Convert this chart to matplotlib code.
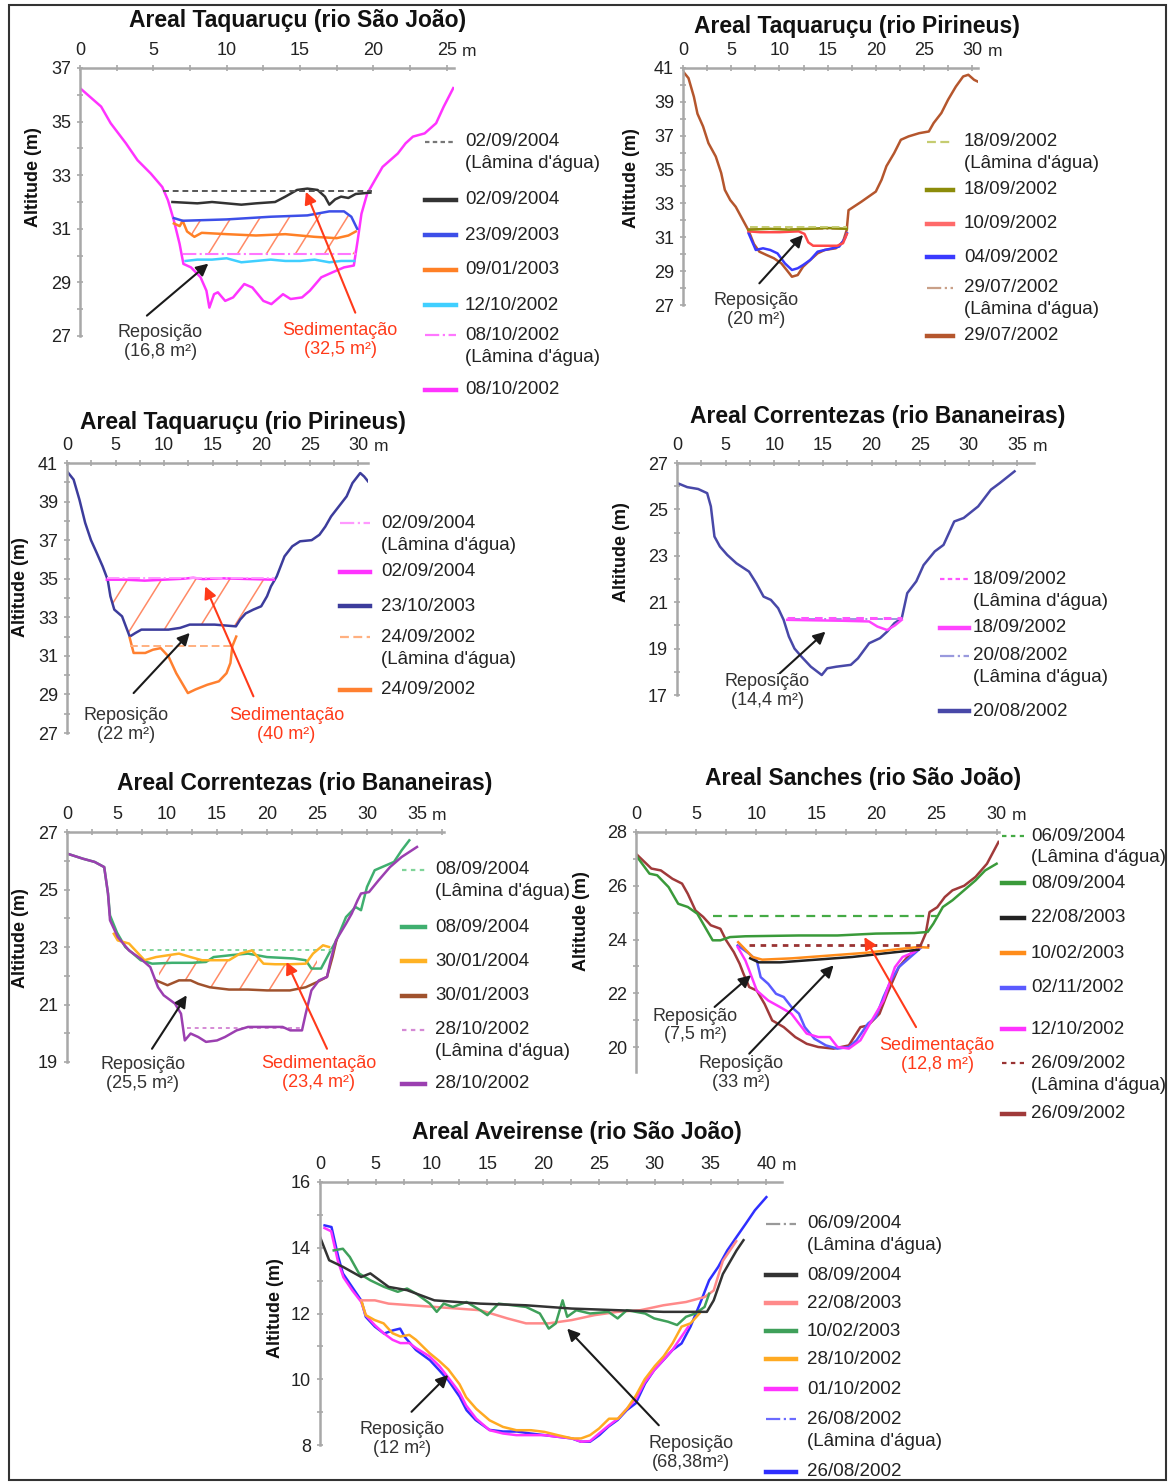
import numpy as np
import matplotlib
matplotlib.use('Agg')
import matplotlib.pyplot as plt
from matplotlib.lines import Line2D
from matplotlib.patches import Rectangle
from matplotlib.ticker import MultipleLocator
from matplotlib.transforms import IdentityTransform

W, H = 1170, 1483

plt.rc('font', family=['Liberation Sans', 'DejaVu Sans'], size=13)

AXIS_GREY = '#A8A8A8'
TEXT = '#222222'
RED_TEXT = '#FF3A1A'
HATCH = '#FF8A66'
LW = 1.8
LAM = "(Lâmina d'água)"

# ---------------- Areal Taquaruçu (rio São João) ----------------
p1_x_0810 = [0, 1.44, 2.09, 3.13, 3.92, 4.83, 5.61, 6.0, 6.4, 6.79, 7.05, 7.57, 8.22, 8.62, 8.82,
             9.14, 9.4, 9.9, 10.44, 11.2, 11.75, 12.5, 13.05, 13.84, 14.36, 15.14, 15.67, 16.45,
             17.23, 18.0, 18.67, 18.93, 19.19, 19.58, 20.1, 20.63, 21.15, 21.67, 22.2, 22.7, 23.5,
             24.28, 24.8, 25.45]
p1_y_0810 = [36.25, 35.56, 34.94, 34.19, 33.56, 33.06, 32.56, 32.06, 31.31, 30.44, 29.69, 29.56,
             29.19, 28.69, 28.06, 28.56, 28.63, 28.31, 28.44, 28.94, 28.81, 28.31, 28.19, 28.56,
             28.38, 28.44, 28.69, 29.19, 29.38, 29.56, 29.63, 30.56, 31.56, 32.31, 32.81, 33.31,
             33.56, 33.81, 34.19, 34.44, 34.56, 34.94, 35.56, 36.25]
p1_x_0810_lam = [7.05, 18.93]
p1_y_0810_lam = [30.05, 30.05]
p1_x_1210 = [7.2, 8, 9, 10, 11, 12, 13, 14, 15, 16, 17, 17.8, 18.7]
p1_y_1210 = [29.8, 29.85, 29.85, 29.9, 29.75, 29.8, 29.85, 29.8, 29.8, 29.85, 29.75, 29.8, 29.8]
p1_x_0901 = [6.4, 6.8, 7.0, 7.3, 7.8, 8.3, 10, 12, 14, 16, 17.5, 18.3, 18.8]
p1_y_0901 = [31.2, 31.1, 31.3, 30.9, 30.7, 30.85, 30.8, 30.75, 30.8, 30.7, 30.65, 30.75, 30.9]
p1_x_2309 = [6.4, 7, 10, 13, 15.5, 17, 18, 18.5, 18.9]
p1_y_2309 = [31.4, 31.3, 31.35, 31.45, 31.5, 31.65, 31.65, 31.45, 31.0]
p1_x_0209 = [6.3, 8, 9, 10, 11, 12, 13.3, 14, 14.8, 15.5, 16.2, 16.7, 17.0, 17.4, 17.8, 18.3, 18.8, 19.8]
p1_y_0209 = [32.0, 31.95, 32.0, 31.95, 31.9, 31.95, 32.0, 32.2, 32.45, 32.5, 32.45, 32.2, 31.9,
             32.1, 32.2, 32.15, 32.3, 32.35]
p1_x_0209_lam = [5.65, 19.9]
p1_y_0209_lam = [32.4, 32.4]

# ---------------- Areal Taquaruçu (rio Pirineus), 2002 ----------------
p2_x_2907 = [0, 0.57, 1.13, 1.5, 2.08, 2.64, 3.4, 3.96, 4.34, 4.9, 5.47, 6.04, 6.8, 7.36, 7.92, 8.68,
             9.43, 10.2, 10.75, 11.3, 11.9, 12.45, 13.2, 13.96, 14.7, 15.85, 16.6, 16.98, 17.17,
             17.7, 18.5, 19.25, 20.0, 20.6, 21.1, 21.9, 22.6, 23.4, 24.5, 25.5, 26.0, 26.8, 27.5,
             28.3, 29.06, 29.6, 30.2, 30.57]
p2_y_2907 = [40.8, 40.4, 39.3, 38.3, 37.55, 36.56, 35.77, 34.8, 33.8, 33.2, 32.8, 32.2, 31.4, 30.6,
             30.15, 29.95, 29.76, 29.46, 29.07, 28.67, 28.77, 29.26, 29.66, 30.05, 30.25, 30.35,
             30.74, 31.43, 32.6, 32.8, 33.1, 33.4, 33.7, 34.4, 35.2, 35.97, 36.76, 36.96, 37.15,
             37.25, 37.75, 38.34, 39.13, 39.9, 40.5, 40.6, 40.3, 40.2]
p2_x_2907_lam = [6.8, 17.0]
p2_y_2907_lam = [31.5, 31.5]
p2_x_1809 = [6.8, 9, 11, 13, 15, 17.0]
p2_y_1809 = [31.45, 31.5, 31.45, 31.5, 31.55, 31.5]
p2_x_1809_lam = [6.9, 17.0]
p2_y_1809_lam = [31.62, 31.62]
p2_x_1009 = [6.8, 8, 10, 12, 12.6, 13.0, 13.5, 15, 16, 16.6, 17.0]
p2_y_1009 = [31.35, 31.3, 31.3, 31.35, 31.2, 30.7, 30.5, 30.5, 30.5, 30.65, 31.2]
p2_x_0409 = [6.8, 7.55, 8.3, 9.05, 9.8, 10.57, 11.3, 11.9, 12.45, 13.2, 13.96, 14.7, 15.5, 16.2, 16.8, 17.0]
p2_y_0409 = [31.24, 30.25, 30.35, 30.25, 30.05, 29.46, 29.07, 29.17, 29.36, 29.66, 30.15, 30.25,
             30.35, 30.45, 30.94, 31.24]

# ---------------- Areal Taquaruçu (rio Pirineus), 2002-2004 ----------------
p3_x_2310 = [0, 0.68, 1.28, 1.87, 2.47, 3.07, 3.67, 4.19, 4.47, 4.87, 5.67, 6.06, 6.46, 7.06, 7.66,
             8.86, 10.45, 11.65, 12.64, 15.2, 17.4, 17.83, 18.4, 19.2, 20.0, 20.6, 21.0, 21.6, 22.4,
             23.2, 24.0, 25.2, 26.0, 26.6, 27.2, 28.0, 28.8, 29.4, 30.2, 30.6, 31.0]
p3_y_2310 = [40.57, 40.14, 39.1, 37.9, 37.0, 36.33, 35.64, 34.95, 34.09, 33.4, 33.05, 32.53, 32.0,
             32.19, 32.36, 32.36, 32.36, 32.45, 32.62, 32.62, 32.53, 32.88, 33.2, 33.4, 33.57, 34.09,
             34.6, 35.12, 36.16, 36.68, 36.94, 37.0, 37.28, 37.7, 38.23, 38.75, 39.27, 39.96, 40.48,
             40.3, 40.05]
p3_x_0209 = [4.1, 6, 8, 10, 12, 13, 14, 16, 17.5, 19, 21.3]
p3_y_0209 = [34.95, 34.95, 34.9, 34.95, 35.0, 35.05, 34.98, 35.02, 35.0, 34.98, 34.95]
p3_x_0209_lam = [4.1, 21.3]
p3_y_0209_lam = [35.05, 35.05]
p3_x_2409 = [6.46, 6.86, 8.06, 8.86, 9.65, 10.45, 11.25, 12.45, 13.24, 14.44, 15.64, 16.43, 16.83, 17.03, 17.43]
p3_y_2409 = [31.93, 31.15, 31.15, 31.32, 31.4, 30.97, 30.1, 29.07, 29.26, 29.5, 29.68, 30.1, 30.63, 31.5, 32.0]
p3_x_2409_lam = [6.5, 17.2]
p3_y_2409_lam = [31.5, 31.5]

# ---------------- Areal Correntezas (rio Bananeiras), 2002 ----------------
p4_x_2008 = [0, 1.05, 2.17, 3.1, 3.48, 3.85, 4.41, 5.16, 6.1, 7.4, 8.15, 8.9, 9.65, 10.4, 10.96, 11.5,
             12.08, 12.8, 13.76, 14.88, 15.44, 16.38, 17.87, 18.6, 19.75, 20.87, 21.6, 22.36, 23.1,
             23.67, 24.6, 25.35, 26.5, 27.4, 28.5, 29.47, 30.96, 32.27, 33.2, 34.7]
p4_y_2008 = [26.14, 25.96, 25.88, 25.7, 25.13, 23.83, 23.4, 23.04, 22.68, 22.32, 21.82, 21.24, 21.1,
             20.74, 20.24, 19.52, 19.0, 18.65, 18.22, 17.86, 18.15, 18.22, 18.3, 18.58, 19.23, 19.45,
             19.73, 20.1, 20.3, 21.39, 21.9, 22.6, 23.19, 23.47, 24.48, 24.63, 25.13, 25.85, 26.14, 26.64]
p4_x_2008_lam = [11.4, 23.0]
p4_y_2008_lam = [20.26, 20.26]
p4_x_1809 = [11.33, 14, 17, 19.75, 20.6, 21.6, 22.4, 23.1]
p4_y_1809 = [20.24, 20.22, 20.2, 20.17, 19.95, 19.8, 20.0, 20.24]
p4_x_1809_lam = [11.3, 23.1]
p4_y_1809_lam = [20.32, 20.32]

# ---------------- Areal Correntezas (rio Bananeiras), 2002-2004 ----------------
p5_x_2810 = [0, 1.6, 2.76, 3.72, 4.1, 4.3, 5.07, 6.2, 7.37, 8.33, 9.1, 9.67, 10.8, 11.4, 11.78, 12.36,
             13.12, 13.9, 15.0, 15.8, 16.96, 18.1, 20.0, 21.56, 22.33, 23.5, 23.87, 24.44, 25.2, 26.0,
             26.36, 26.9, 27.9, 28.47, 29.05, 29.4, 30.2, 31.16, 32.3, 33.46, 35.0]
p5_y_2810 = [26.25, 26.07, 25.96, 25.78, 24.86, 23.93, 23.35, 22.88, 22.59, 22.3, 21.6, 21.32, 21.03,
             20.68, 19.75, 19.99, 19.87, 19.7, 19.75, 19.87, 20.1, 20.22, 20.22, 20.22, 20.1, 20.1,
             20.68, 21.49, 21.84, 21.96, 22.54, 23.23, 23.81, 24.16, 24.62, 24.86, 24.91, 25.32,
             25.78, 26.13, 26.48]
p5_x_2810_lam = [12.0, 23.5]
p5_y_2810_lam = [20.18, 20.18]
p5_x_0809 = [0, 1.6, 2.76, 3.72, 4.1, 4.3, 5.0, 5.83, 7.37, 8.52, 10.5, 12.5, 13.9, 14.66, 16.5, 18.1,
             20.0, 22.7, 23.87, 24.44, 25.4, 26.2, 26.94, 27.9, 28.86, 29.4, 30.0, 30.77, 31.5, 32.7,
             33.46, 34.23]
p5_y_0809 = [26.25, 26.07, 25.96, 25.78, 24.86, 24.1, 23.5, 23.0, 22.54, 22.42, 22.45, 22.45, 22.48,
             22.65, 22.72, 22.77, 22.65, 22.6, 22.54, 22.25, 22.25, 22.77, 23.23, 24.04, 24.39, 24.28,
             25.09, 25.67, 25.78, 25.96, 26.36, 26.71]
p5_x_0809_lam = [7.5, 26.5]
p5_y_0809_lam = [22.88, 22.88]
p5_x_3001_04 = [4.68, 5.07, 6.2, 6.98, 7.75, 8.9, 10.05, 11.2, 12.36, 13.5, 14.66, 16.2, 17.3, 18.5,
                19.65, 20.8, 22.3, 23.87, 24.6, 25.6, 26.2]
p5_y_3001_04 = [23.46, 23.23, 23.12, 22.83, 22.54, 22.65, 22.71, 22.77, 22.65, 22.54, 22.54, 22.54,
                22.77, 22.88, 22.42, 22.4, 22.4, 22.42, 22.77, 23.06, 23.0]
p5_x_3001_03 = [8.9, 10.05, 11.2, 12.36, 13.12, 14.27, 16.2, 18.1, 20.0, 22.3, 23.87, 25.0, 26.0, 26.55, 26.94]
p5_y_3001_03 = [21.84, 21.67, 21.84, 21.84, 21.72, 21.6, 21.52, 21.52, 21.49, 21.49, 21.6, 21.78,
                21.96, 22.65, 23.23]

# ---------------- Areal Sanches (rio São João) ----------------
p6_x_2609 = [0, 1.28, 2.07, 3.03, 3.83, 4.31, 4.95, 5.59, 6.22, 7.02, 7.5, 8.14, 8.62, 8.94, 9.42,
             10.05, 10.7, 11.33, 12.29, 13.25, 14.2, 15.16, 16.44, 17.71, 18.67, 19.3, 20.26, 20.9,
             21.86, 22.82, 23.62, 24.1, 24.42, 25.06, 25.69, 26.33, 27.3, 28.25, 29.2, 30.16]
p6_y_2609 = [27.19, 26.64, 26.57, 26.26, 26.08, 25.7, 25.08, 24.84, 24.53, 24.4, 23.97, 23.53, 23.1,
             22.73, 22.23, 22.1, 21.6, 20.99, 20.74, 20.37, 20.12, 20.0, 19.94, 20.06, 20.74, 20.8,
             21.24, 21.98, 22.97, 23.47, 23.72, 24.22, 25.02, 25.2, 25.58, 25.83, 26.0, 26.33, 26.82, 27.63]
p6_x_2609_lam = [9.4, 24.4]
p6_y_2609_lam = [23.78, 23.78]
p6_x_0809 = [0, 1.12, 1.76, 2.71, 3.51, 4.31, 5.1, 5.9, 6.38, 7.02, 7.82, 9.1, 13.56, 16.76, 19.95,
             23.14, 24.26, 24.74, 25.53, 26.33, 27.29, 28.25, 29.05, 30.0]
p6_y_0809 = [27.13, 26.45, 26.39, 25.95, 25.33, 25.21, 24.96, 24.34, 23.97, 23.97, 24.09, 24.12, 24.15,
             24.15, 24.22, 24.24, 24.28, 24.59, 25.21, 25.46, 25.83, 26.2, 26.57, 26.82]
p6_x_0609_lam = [6.38, 25.06]
p6_y_0609_lam = [24.86, 24.86]
p6_x_2208 = [9.5, 10.2, 12, 15, 18, 21, 23.5]
p6_y_2208 = [23.3, 23.15, 23.15, 23.25, 23.35, 23.5, 23.62]
p6_x_1002 = [8.5, 9.7, 10.5, 13, 16, 19, 22, 23.5, 24.3]
p6_y_1002 = [23.9, 23.35, 23.25, 23.3, 23.4, 23.5, 23.65, 23.72, 23.7]
p6_x_0211 = [8.46, 9.42, 10.05, 10.37, 11.0, 11.65, 12.29, 12.93, 13.56, 14.04, 14.84, 15.8, 16.76,
             17.71, 18.35, 19.3, 19.95, 20.59, 21.22, 21.86, 22.5, 23.14, 23.78]
p6_y_0211 = [23.78, 23.47, 23.22, 22.6, 22.35, 21.98, 21.86, 21.49, 21.24, 20.74, 20.31, 20.06, 19.94,
             20.0, 20.25, 20.87, 21.11, 21.86, 22.48, 22.97, 23.22, 23.47, 23.72]
p6_x_1210 = [8.46, 9.1, 9.42, 10.05, 11.0, 11.97, 12.93, 13.56, 14.2, 15.16, 16.12, 16.76, 17.71,
             18.67, 19.63, 20.59, 21.54, 22.18, 23.14, 23.62]
p6_y_1210 = [23.72, 23.22, 22.85, 22.1, 21.73, 21.49, 21.24, 20.87, 20.5, 20.37, 20.37, 20.0, 19.94,
             20.25, 21.0, 21.73, 22.97, 23.35, 23.53, 23.72]

# ---------------- Areal Aveirense (rio São João) ----------------
p7_x_2608 = [0.41, 1.03, 1.64, 2.05, 2.87, 3.69, 4.1, 4.92, 5.74, 6.56, 7.18, 7.59, 8.6, 9.85, 10.67,
             11.49, 12.51, 13.13, 13.95, 15.18, 16.41, 17.64, 18.87, 20.1, 21.33, 22.56, 23.38, 24.2,
             25.03, 25.85, 26.67, 27.49, 28.3, 29.13, 29.95, 30.77, 31.59, 32.4, 33.2, 34.05, 34.87,
             35.69, 36.5, 37.33, 38.15, 38.97, 40.0]
p7_y_2608 = [14.68, 14.63, 13.72, 13.22, 12.81, 12.4, 11.9, 11.6, 11.39, 11.49, 11.54, 11.29, 10.89,
             10.58, 10.28, 9.97, 9.47, 9.06, 8.76, 8.46, 8.41, 8.41, 8.35, 8.3, 8.25, 8.2, 8.1, 8.1,
             8.3, 8.56, 8.76, 9.06, 9.27, 9.87, 10.28, 10.58, 10.89, 11.09, 11.6, 12.3, 13.01, 13.42,
             13.92, 14.33, 14.73, 15.14, 15.54]
p7_x_2608_lam = [30.8, 34.6]
p7_y_2608_lam = [12.05, 12.05]
p7_x_0110 = [0.4, 1.0, 1.6, 2.1, 2.9, 3.7, 4.1, 4.9, 5.7, 6.5, 7.2, 8.0, 8.6, 9.8, 10.7, 11.5, 12.5,
             13.1, 14.0, 15.2, 16.4, 17.6, 18.9, 20.1, 21.3, 22.6, 23.4, 24.2, 25.0, 25.9, 26.7, 27.5,
             28.3, 29.1, 30.0, 30.8, 31.6, 32.4, 33.0]
p7_y_0110 = [14.6, 14.5, 13.6, 13.1, 12.7, 12.35, 11.95, 11.65, 11.4, 11.2, 11.1, 11.1, 10.95, 10.7,
             10.4, 10.05, 9.6, 9.2, 8.8, 8.45, 8.35, 8.3, 8.3, 8.3, 8.25, 8.2, 8.1, 8.12, 8.35, 8.6,
             8.8, 9.1, 9.4, 9.9, 10.3, 10.6, 10.9, 11.3, 11.6]
p7_x_2810 = [3.7, 4.1, 4.9, 5.7, 6.5, 7.2, 8.0, 8.6, 9.8, 10.7, 11.5, 12.5, 13.1, 14.0, 15.2, 16.4,
             17.6, 18.9, 20.1, 21.3, 22.6, 23.4, 24.2, 25.0, 25.9, 26.7, 27.5, 28.3, 29.1, 30.0, 30.8,
             31.6, 32.4, 33.2, 34.0]
p7_y_2810 = [12.4, 11.95, 11.8, 11.7, 11.4, 11.3, 11.35, 11.2, 10.8, 10.55, 10.3, 9.85, 9.45, 9.1,
             8.75, 8.55, 8.45, 8.45, 8.4, 8.3, 8.2, 8.2, 8.3, 8.5, 8.8, 8.8, 9.1, 9.5, 10.0, 10.4,
             10.7, 11.1, 11.6, 11.7, 12.0]
p7_x_0809 = [0, 0.82, 2.05, 3.69, 4.51, 6.15, 7.8, 10.25, 14.36, 18.46, 22.56, 26.67, 30.77, 34.67,
             35.28, 36.1, 37.33, 37.95]
p7_y_0809 = [14.33, 13.62, 13.42, 13.11, 13.22, 12.81, 12.71, 12.4, 12.3, 12.25, 12.15, 12.1, 12.05,
             12.05, 12.4, 13.2, 13.92, 14.23]
p7_x_0609_lam = [30.8, 34.6]
p7_y_0609_lam = [12.05, 12.05]
p7_x_2208 = [3.69, 4.92, 6.15, 10.25, 14.36, 16.8, 18.46, 20.5, 22.56, 24.6, 26.67, 28.7, 30.77,
             32.8, 34.46, 35.28, 36.1, 36.9, 37.3]
p7_y_2208 = [12.4, 12.4, 12.3, 12.2, 12.1, 11.85, 11.7, 11.7, 11.8, 11.95, 12.05, 12.1, 12.25, 12.35,
             12.5, 12.7, 13.6, 14.0, 14.2]
p7_x_1002 = [1.23, 2.05, 2.67, 3.49, 4.51, 5.74, 6.97, 7.8, 8.6, 9.85, 10.46, 11.08, 11.9, 13.13,
             14.36, 15.0, 16.0, 17.23, 18.46, 19.7, 20.5, 21.13, 21.74, 22.15, 22.97, 24.2, 25.85,
             26.67, 27.49, 29.13, 29.95, 31.18, 32.0, 32.8, 33.64, 34.46, 34.87]
p7_y_1002 = [13.92, 13.97, 13.72, 13.22, 13.01, 12.81, 12.66, 12.76, 12.61, 12.3, 12.05, 12.3, 12.2,
             12.35, 12.1, 11.95, 12.3, 12.25, 12.2, 12.0, 11.54, 11.7, 12.4, 11.9, 12.1, 12.0, 12.05,
             11.85, 12.1, 12.0, 11.85, 11.75, 11.65, 11.9, 12.0, 12.2, 12.6]


def add_axes(fig, left, top, right, bottom):
    return fig.add_axes([left / W, 1 - bottom / H, (right - left) / W, (bottom - top) / H])


def style_axes(ax, xlim, ylim, xmax_tick, yticks):
    ax.set_xlim(*xlim)
    ax.set_ylim(*ylim)
    ax.patch.set_alpha(0)
    for s in ('right', 'bottom'):
        ax.spines[s].set_visible(False)
    for s in ('top', 'left'):
        ax.spines[s].set_color(AXIS_GREY)
        ax.spines[s].set_linewidth(1.8)
    ax.xaxis.tick_top()
    xt = np.arange(0, xmax_tick + 1, 5)
    ax.set_xticks(xt)
    ax.set_xticklabels([str(v) for v in xt])
    ax.xaxis.set_minor_locator(MultipleLocator(2.5))
    ax.set_yticks(np.arange(yticks[0], yticks[1] + 1, 2))
    ax.yaxis.set_minor_locator(MultipleLocator(1))
    ax.tick_params(which='both', direction='inout', length=5, width=1.2, color=AXIS_GREY,
                   labelcolor=TEXT, labelsize=13, pad=4)
    ax.annotate('m', xy=(xt[-1], 1), xycoords=('data', 'axes fraction'), xytext=(11, 6.5),
                textcoords='offset points', ha='left', va='bottom', fontsize=12.5, color=TEXT)


def put_title(fig, x, y, text):
    fig.text(x / W, 1 - y / H, text, ha='center', va='center', fontsize=16.5, fontweight='bold', color='#111111')


def put_ylabel(fig, x, y):
    fig.text(x / W, 1 - y / H, 'Altitude (m)', rotation=90, ha='center', va='center',
             fontsize=13, fontweight='bold', color='#111111')


def draw_key(fig, x0, x1, xt, entries):
    for y, label, color, ls in entries:
        lines = label.split('\n')
        lw = 1.6 if len(lines) > 1 else 3.2
        fig.add_artist(Line2D([x0 / W, x1 / W], [1 - y / H] * 2, color=color, ls=ls, lw=lw,
                              transform=fig.transFigure))
        for i, t in enumerate(lines):
            fig.text(xt / W, 1 - (y + i * 22) / H, t, ha='left', va='center', fontsize=13.5, color=TEXT)


def hatch(ax, xa, ya, xb, yb, x0, x1, gap=30, slope=1.6):
    xs = np.linspace(x0, x1, 150)
    lo = np.interp(xs, xa, ya)
    hi = np.interp(xs, xb, yb)
    region = ax.fill_between(xs, lo, hi, facecolor='none', edgecolor='none', lw=0)
    pts = ax.transData.transform(np.column_stack([np.r_[xs, xs], np.r_[lo, hi]]))
    px0, py0 = pts.min(axis=0)
    px1, py1 = pts.max(axis=0)
    run = (py1 - py0) / slope
    for c in np.arange(px0 - run + gap / 2, px1, gap):
        seg = Line2D([c, c + run], [py0, py1], transform=IdentityTransform(), color=HATCH, lw=1.1)
        seg.set_clip_path(region.get_paths()[0], ax.transData)
        ax.add_line(seg)


def arrow(ax, tail, head, color='#1a1a1a'):
    ax.annotate('', xy=head, xytext=tail, annotation_clip=False,
                arrowprops=dict(arrowstyle='-|>,head_length=0.55,head_width=0.28', color=color,
                                lw=1.5, shrinkA=0, shrinkB=0))


def note(ax, x, y, text, color='#333333'):
    ax.text(x, y, text, ha='center', va='center', fontsize=13, color=color, linespacing=1.15, clip_on=False)


def panel_1(fig):
    ax = add_axes(fig, 80, 68, 454, 336)
    style_axes(ax, (0, 25.5), (27, 37), 25, (27, 37))
    hatch(ax, p1_x_0810_lam, p1_y_0810_lam, p1_x_2309, p1_y_2309, 7.6, 18.7, gap=29)
    ax.plot(p1_x_0810, p1_y_0810, color='#FF33FF', lw=LW)
    ax.plot(p1_x_1210, p1_y_1210, color='#40CFFF', lw=LW)
    ax.plot(p1_x_0810_lam, p1_y_0810_lam, color='#FF77FF', lw=1.5, ls='-.')
    ax.plot(p1_x_0901, p1_y_0901, color='#FF8026', lw=LW)
    ax.plot(p1_x_2309, p1_y_2309, color='#3D4FE8', lw=LW)
    ax.plot(p1_x_0209, p1_y_0209, color='#333333', lw=LW)
    ax.plot(p1_x_0209_lam, p1_y_0209_lam, color='#555555', lw=1.4, ls=(0, (3, 2)))
    arrow(ax, (4.56, 27.76), (8.75, 29.7))
    note(ax, 5.48, 26.79, 'Reposição\n(16,8 m²)')
    arrow(ax, (18.77, 27.87), (15.4, 32.38), RED_TEXT)
    note(ax, 17.74, 26.86, 'Sedimentação\n(32,5 m²)', RED_TEXT)
    put_title(fig, 298, 20, 'Areal Taquaruçu (rio São João)')
    put_ylabel(fig, 33, 177)
    draw_key(fig, 425, 456, 465, [
        (142, '02/09/2004\n' + LAM, '#777777', (0, (2, 1.5))),
        (200, '02/09/2004', '#333333', '-'),
        (235, '23/09/2003', '#3D4FE8', '-'),
        (270, '09/01/2003', '#FF8026', '-'),
        (305, '12/10/2002', '#40CFFF', '-'),
        (335, '08/10/2002\n' + LAM, '#FF77FF', '-.'),
        (390, '08/10/2002', '#FF33FF', '-'),
    ])


def panel_2(fig):
    ax = add_axes(fig, 683, 68, 978, 305)
    style_axes(ax, (0, 30.6), (27, 41), 30, (27, 41))
    ax.plot(p2_x_2907, p2_y_2907, color='#B5562D', lw=LW)
    ax.plot(p2_x_2907_lam, p2_y_2907_lam, color='#C9A088', lw=1.4, ls='-.')
    ax.plot(p2_x_0409, p2_y_0409, color='#3A3AFF', lw=LW)
    ax.plot(p2_x_1009, p2_y_1009, color='#FF4A4A', lw=LW)
    ax.plot(p2_x_1809, p2_y_1809, color='#8C8C0A', lw=LW)
    ax.plot(p2_x_1809_lam, p2_y_1809_lam, color='#C5CC70', lw=1.4, ls=(0, (4, 2)))
    arrow(ax, (7.92, 28.28), (12.45, 31.14))
    note(ax, 7.55, 26.7, 'Reposição\n(20 m²)')
    put_title(fig, 857, 27, 'Areal Taquaruçu (rio Pirineus)')
    put_ylabel(fig, 631, 178)
    draw_key(fig, 927, 953, 964, [
        (142, '18/09/2002\n' + LAM, '#C5CC70', (0, (4, 2))),
        (190, '18/09/2002', '#8C8C0A', '-'),
        (224, '10/09/2002', '#FF6A6A', '-'),
        (257, '04/09/2002', '#3A3AFF', '-'),
        (288, '29/07/2002\n' + LAM, '#C9A088', '-.'),
        (336, '29/07/2002', '#B5562D', '-'),
    ])


def panel_3(fig):
    ax = add_axes(fig, 67, 463, 368, 733)
    style_axes(ax, (0, 31.0), (27, 41), 30, (27, 41))
    hatch(ax, p3_x_2310, p3_y_2310, p3_x_0209, p3_y_0209, 4.6, 21.2, gap=34)
    ax.plot(p3_x_2310, p3_y_2310, color='#3C3C9C', lw=LW)
    ax.plot(p3_x_2409, p3_y_2409, color='#FF8030', lw=LW)
    ax.plot(p3_x_2409_lam, p3_y_2409_lam, color='#FFB080', lw=1.4, ls=(0, (4, 2)))
    ax.plot(p3_x_0209, p3_y_0209, color='#FF33FF', lw=LW)
    ax.plot(p3_x_0209_lam, p3_y_0209_lam, color='#FF99FF', lw=1.4, ls='-.')
    arrow(ax, (6.86, 29.07), (12.64, 32.19))
    note(ax, 6.06, 27.43, 'Reposição\n(22 m²)')
    arrow(ax, (19.2, 28.9), (14.24, 34.6), RED_TEXT)
    note(ax, 22.6, 27.43, 'Sedimentação\n(40 m²)', RED_TEXT)
    put_title(fig, 243, 423, 'Areal Taquaruçu (rio Pirineus)')
    put_ylabel(fig, 21, 587)
    draw_key(fig, 340, 370, 381, [
        (523, '02/09/2004\n' + LAM, '#FF99FF', '-.'),
        (572, '02/09/2004', '#FF33FF', '-'),
        (606, '23/10/2003', '#3C3C9C', '-'),
        (637, '24/09/2002\n' + LAM, '#FFB080', (0, (4, 2))),
        (690, '24/09/2002', '#FF8030', '-'),
    ])


def panel_4(fig):
    ax = add_axes(fig, 677, 463, 1034, 695)
    style_axes(ax, (0, 36.7), (17, 27), 35, (17, 27))
    ax.plot(p4_x_2008, p4_y_2008, color='#4848A8', lw=LW)
    ax.plot(p4_x_2008_lam, p4_y_2008_lam, color='#9999DD', lw=1.4, ls='-.')
    ax.plot(p4_x_1809, p4_y_1809, color='#FF44FF', lw=LW)
    ax.plot(p4_x_1809_lam, p4_y_1809_lam, color='#FF55FF', lw=2.2, ls=(0, (2.5, 2)))
    arrow(ax, (10.58, 17.94), (15.26, 19.73))
    note(ax, 9.27, 17.19, 'Reposição\n(14,4 m²)')
    put_title(fig, 878, 417, 'Areal Correntezas (rio Bananeiras)')
    put_ylabel(fig, 622, 552)
    draw_key(fig, 940, 969, 973, [
        (579, '18/09/2002\n' + LAM, '#FF55FF', (0, (2, 1.5))),
        (628, '18/09/2002', '#FF44FF', '-'),
        (656, '20/08/2002\n' + LAM, '#9999DD', '-.'),
        (711, '20/08/2002', '#4848A8', '-'),
    ])


def panel_5(fig):
    ax = add_axes(fig, 67, 832, 444, 1062)
    style_axes(ax, (0, 37.7), (19, 27), 35, (19, 27))
    hatch(ax, p5_x_3001_03, p5_y_3001_03, p5_x_3001_04, p5_y_3001_04, 9.2, 25.0)
    ax.plot(p5_x_0809, p5_y_0809, color='#3FAF6F', lw=LW)
    ax.plot(p5_x_0809_lam, p5_y_0809_lam, color='#80D49A', lw=1.4, ls=(0, (2, 2)))
    ax.plot(p5_x_3001_04, p5_y_3001_04, color='#FFB224', lw=LW)
    ax.plot(p5_x_3001_03, p5_y_3001_03, color='#A0522D', lw=LW)
    ax.plot(p5_x_2810_lam, p5_y_2810_lam, color='#D58AD5', lw=1.4, ls=(0, (2, 2)))
    ax.plot(p5_x_2810, p5_y_2810, color='#9B3FB0', lw=LW)
    arrow(ax, (8.5, 19.46), (11.97, 21.32))
    note(ax, 7.56, 18.57, 'Reposição\n(25,5 m²)')
    arrow(ax, (26.0, 19.46), (21.95, 22.48), RED_TEXT)
    note(ax, 25.2, 18.62, 'Sedimentação\n(23,4 m²)', RED_TEXT)
    put_title(fig, 305, 784, 'Areal Correntezas (rio Bananeiras)')
    put_ylabel(fig, 21, 938)
    draw_key(fig, 402, 425, 435, [
        (870, '08/09/2004\n' + LAM, '#80D49A', (0, (2, 2))),
        (927, '08/09/2004', '#3FAF6F', '-'),
        (961, '30/01/2004', '#FFB224', '-'),
        (996, '30/01/2003', '#A0522D', '-'),
        (1030, '28/10/2002\n' + LAM, '#D58AD5', (0, (2, 2))),
        (1084, '28/10/2002', '#9B3FB0', '-'),
    ])


def panel_6(fig):
    ax = add_axes(fig, 636, 832, 999, 1072)
    style_axes(ax, (0, 30.2), (19.07, 28), 30, (20, 28))
    ax.plot(p6_x_2609, p6_y_2609, color='#A03A3A', lw=LW)
    ax.plot(p6_x_0211, p6_y_0211, color='#5A5AFF', lw=LW)
    ax.plot(p6_x_1210, p6_y_1210, color='#FF33FF', lw=LW)
    ax.plot(p6_x_2208, p6_y_2208, color='#222222', lw=LW)
    ax.plot(p6_x_1002, p6_y_1002, color='#FF8C1A', lw=LW)
    ax.plot(p6_x_0809, p6_y_0809, color='#3A9A3A', lw=LW)
    ax.plot(p6_x_0609_lam, p6_y_0609_lam, color='#44AA44', lw=1.6, ls=(0, (4, 3)))
    ax.plot(p6_x_2609_lam, p6_y_2609_lam, color='#993333', lw=2.0, ls=(0, (2, 2)))
    arrow(ax, (6.54, 21.49), (9.57, 22.67))
    note(ax, 4.95, 20.8, 'Reposição\n(7,5 m²)')
    arrow(ax, (9.42, 19.75), (16.44, 23.04))
    note(ax, 8.78, 19.03, 'Reposição\n(33 m²)')
    arrow(ax, (23.3, 20.74), (19.0, 24.09), RED_TEXT)
    note(ax, 25.06, 19.72, 'Sedimentação\n(12,8 m²)', RED_TEXT)
    put_title(fig, 863, 778, 'Areal Sanches (rio São João)')
    put_ylabel(fig, 582, 921)
    draw_key(fig, 1002, 1024, 1031, [
        (836, '06/09/2004\n' + LAM, '#44AA44', (0, (2, 2))),
        (883, '08/09/2004', '#3A9A3A', '-'),
        (918, '22/08/2003', '#222222', '-'),
        (953, '10/02/2003', '#FF8C1A', '-'),
        (988, '02/11/2002', '#5A5AFF', '-'),
        (1029, '12/10/2002', '#FF33FF', '-'),
        (1063, '26/09/2002\n' + LAM, '#993333', (0, (2, 2))),
        (1114, '26/09/2002', '#A03A3A', '-'),
    ])


def panel_7(fig):
    ax = add_axes(fig, 320, 1182, 782, 1445)
    style_axes(ax, (0, 41.4), (8, 16), 40, (8, 16))
    ax.plot(p7_x_2608_lam, p7_y_2608_lam, color='#6A6AFF', lw=1.4, ls='-.')
    ax.plot(p7_x_0609_lam, p7_y_0609_lam, color='#999999', lw=1.4, ls='-.')
    ax.plot(p7_x_2608, p7_y_2608, color='#2F2FFF', lw=LW)
    ax.plot(p7_x_0110, p7_y_0110, color='#FF33FF', lw=LW)
    ax.plot(p7_x_2810, p7_y_2810, color='#FFAA22', lw=LW)
    ax.plot(p7_x_2208, p7_y_2208, color='#FF8A8A', lw=LW)
    ax.plot(p7_x_1002, p7_y_1002, color='#3FA05A', lw=LW)
    ax.plot(p7_x_0809, p7_y_0809, color='#333333', lw=LW)
    arrow(ax, (8.2, 9.01), (11.49, 10.13))
    note(ax, 7.38, 8.17, 'Reposição\n(12 m²)')
    arrow(ax, (30.36, 8.6), (22.15, 11.54))
    note(ax, 33.23, 7.75, 'Reposição\n(68,38m²)')
    put_title(fig, 577, 1132, 'Areal Aveirense (rio São João)')
    put_ylabel(fig, 275, 1308)
    draw_key(fig, 766, 796, 807, [
        (1224, '06/09/2004\n' + LAM, '#999999', '-.'),
        (1275, '08/09/2004', '#333333', '-'),
        (1303, '22/08/2003', '#FF8A8A', '-'),
        (1331, '10/02/2003', '#3FA05A', '-'),
        (1359, '28/10/2002', '#FFAA22', '-'),
        (1389, '01/10/2002', '#FF33FF', '-'),
        (1419, '26/08/2002\n' + LAM, '#6A6AFF', '-.'),
        (1472, '26/08/2002', '#2F2FFF', '-'),
    ])


if __name__ == '__main__':
    fig = plt.figure(figsize=(W / 100, H / 100), dpi=100)
    fig.patch.set_facecolor('white')
    fig.add_artist(Rectangle((9 / W, 1 - 1480 / H), (1166 - 9) / W, (1480 - 5) / H,
                             transform=fig.transFigure, fill=False, ec='#333333', lw=1.5))
    for step in (panel_1, panel_2, panel_3, panel_4, panel_5, panel_6, panel_7):
        step(fig)
    fig.savefig('out.png', dpi=100)
    plt.close(fig)
